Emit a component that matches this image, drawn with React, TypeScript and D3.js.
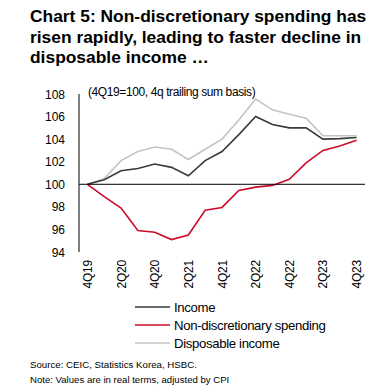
import React from "react";
import * as d3 from "d3";

const quarters = [
  "4Q19", "1Q20", "2Q20", "3Q20", "4Q20", "1Q21", "2Q21", "3Q21", "4Q21",
  "1Q22", "2Q22", "3Q22", "4Q22", "1Q23", "2Q23", "3Q23", "4Q23",
];
const tickQuarters = ["4Q19", "2Q20", "4Q20", "2Q21", "4Q21", "2Q22", "4Q22", "2Q23", "4Q23"];
const income = [100, 100.4, 101.2, 101.4, 101.8, 101.5, 100.75, 102.1, 102.9, 104.4, 106.0, 105.3, 105.0, 105.0, 104.0, 104.05, 104.15];
const nonDiscretionary = [100, 98.9, 97.9, 95.9, 95.75, 95.1, 95.5, 97.7, 97.95, 99.45, 99.75, 99.9, 100.45, 101.9, 103.0, 103.4, 103.9];
const disposable = [100, 100.5, 102.1, 102.9, 103.3, 103.1, 102.2, 103.1, 104.0, 105.7, 107.55, 106.6, 106.2, 105.85, 104.3, 104.3, 104.3];
const yTicks = [94, 96, 98, 100, 102, 104, 106, 108];

const titleLines = [
  "Chart 5: Non-discretionary spending has",
  "risen rapidly, leading to faster decline in",
  "disposable income \u2026",
];
const subtitle = "(4Q19=100, 4q trailing sum basis)";
const seriesNames = ["Income", "Non-discretionary spending", "Disposable income"];
const sourceText = "Source: CEIC, Statistics Korea, HSBC.";
const noteText = "Note: Values are in real terms, adjusted by CPI";

const colors = ["#3a3a3a", "#cc0a2a", "#c4c4c4"];
const FONT = "'Liberation Sans', Arial, sans-serif";

export default function App() {
  const x = d3.scaleBand<string>().domain(quarters).range([79, 365]);
  const y = d3.scaleLinear().domain([94, 108]).range([252, 94]);
  const cx = (q: string) => (x(q) as number) + x.bandwidth() / 2;
  const line = d3
    .line<number>()
    .x((_, i) => cx(quarters[i]))
    .y((d) => y(d));
  const series = [income, nonDiscretionary, disposable];
  const drawOrder = [2, 0, 1];

  return (
    <svg
      width={375}
      height={391}
      style={{ position: "absolute", left: 0, top: 0, background: "#fff" }}
      fontFamily={FONT}
    >
      <rect width={375} height={391} fill="#fff" />
      {titleLines.map((t, i) => (
        <text key={i} x={30} y={22 + i * 20.5} fontSize={17.4} fontWeight="bold" fill="#000">
          {t}
        </text>
      ))}
      <text x={88} y={96} fontSize={12} fill="#000" letterSpacing={-0.4}>
        {subtitle}
      </text>
      {yTicks.map((t) => (
        <text key={t} x={65} y={y(t) + 4.5} fontSize={12} textAnchor="end" fill="#000">
          {t}
        </text>
      ))}
      <line x1={79} x2={79} y1={y(108)} y2={y(94)} stroke="#000" strokeWidth={1} />
      {drawOrder.map((k) => (
        <path key={k} d={line(series[k]) || ""} fill="none" stroke={colors[k]} strokeWidth={1.6} />
      ))}
      <line x1={79} x2={365} y1={y(100)} y2={y(100)} stroke="#000" strokeWidth={1} />
      {tickQuarters.map((q) => (
        <text
          key={q}
          transform={`translate(${cx(q) + 4.5},${260}) rotate(-90)`}
          fontSize={12}
          textAnchor="end"
          fill="#000"
          letterSpacing={-0.2}
        >
          {q}
        </text>
      ))}
      {seriesNames.map((n, i) => (
        <g key={n}>
          <line x1={135} x2={170} y1={307 + i * 18} y2={307 + i * 18} stroke={colors[i]} strokeWidth={1.6} />
          <text x={174} y={311.5 + i * 18} fontSize={13.2} fill="#000" letterSpacing={-0.35}>
            {n}
          </text>
        </g>
      ))}
      <text x={30} y={368} fontSize={9.7} fill="#000">
        {sourceText}
      </text>
      <text x={30} y={382.5} fontSize={9.6} fill="#000">
        {noteText}
      </text>
    </svg>
  );
}
